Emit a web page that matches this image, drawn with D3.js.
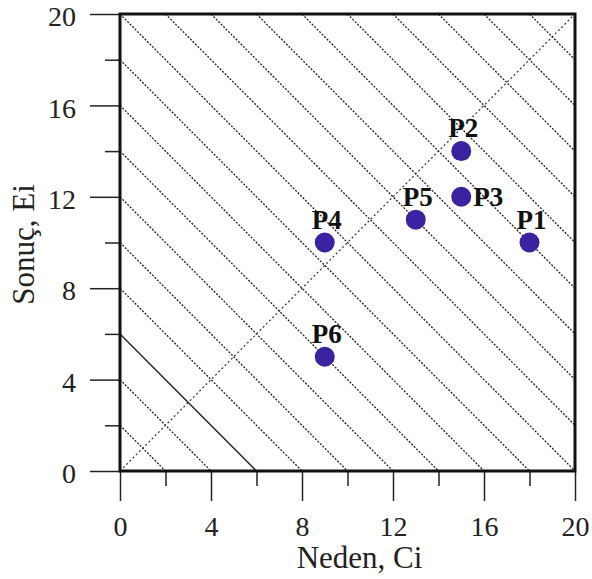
<!DOCTYPE html>
<html><head><meta charset="utf-8">
<script src="https://cdn.jsdelivr.net/npm/d3@7"></script>
<style>body{margin:0;background:#fff}svg{display:block}</style>
</head><body>
<svg id="chart" width="592" height="579"></svg>
<script>
// ---- data ----
const pointNames = ["P1","P2","P3","P4","P5","P6"];
const causeCi   = [18, 15, 15, 9, 13, 9];
const effectEi  = [10, 14, 12, 10, 11, 5];
const labelSide = ["top","top","right","top","top","top"];
const dashedSums = [2,4,8,10,12,14,16,18,20,22,24,26,28,30,32,34,36,38];
const solidSum = 6;
const majorTicks = [0,4,8,12,16,20];
const minorTicks = [2,6,10,14,18];
const xTitle = "Neden, Ci";
const yTitle = "Sonuç, Ei";

const svg = d3.select("#chart");
const x = d3.scaleLinear().domain([0,20]).range([120,575]);
const y = d3.scaleLinear().domain([0,20]).range([471,14]);
const font = "'Liberation Serif','Times New Roman',serif";

// diagonal guide lines x+y=c
function seg(c){ return [[Math.max(0,c-20), Math.min(20,c)],[Math.min(20,c), Math.max(0,c-20)]]; }
const line = d3.line().x(d=>x(d[0])).y(d=>y(d[1]));
svg.append("g").selectAll("path").data(dashedSums).join("path")
  .attr("d", c=>line(seg(c))).attr("fill","none")
  .attr("stroke","#222").attr("stroke-width",1.3).attr("stroke-dasharray","2,1.5");
// identity line
svg.append("path").attr("d", line([[0,0],[20,20]])).attr("fill","none")
  .attr("stroke","#333").attr("stroke-width",1.2).attr("stroke-dasharray","2,2.5");
// solid line
svg.append("path").attr("d", line(seg(solidSum))).attr("fill","none")
  .attr("stroke","#222").attr("stroke-width",1.4);

// axes
const xAxisMajor = d3.axisBottom(x).tickValues(majorTicks).tickSize(30).tickPadding(15).tickFormat(d3.format("d"));
const xAxisMinor = d3.axisBottom(x).tickValues(minorTicks).tickSize(15).tickFormat("");
const yAxisMajor = d3.axisLeft(y).tickValues(majorTicks).tickSize(30).tickPadding(14).tickFormat(d3.format("d"));
const yAxisMinor = d3.axisLeft(y).tickValues(minorTicks).tickSize(15).tickFormat("");
function styleAxis(g){
  g.select(".domain").remove();
  g.selectAll("line").attr("stroke","#222").attr("stroke-width",1.5);
  g.selectAll("text").attr("font-family",font).attr("font-size",28).attr("fill","#222");
}
svg.append("g").attr("transform","translate(0,471)").call(xAxisMajor).call(styleAxis);
svg.append("g").attr("transform","translate(0,471)").call(xAxisMinor).call(styleAxis);
svg.append("g").attr("transform","translate(120,0)").call(yAxisMajor).call(styleAxis)
  .selectAll("text").attr("dy","0.42em");
svg.append("g").attr("transform","translate(120,0)").call(yAxisMinor).call(styleAxis);

// frame
svg.append("rect").attr("x",x(0)).attr("y",y(20)).attr("width",x(20)-x(0)).attr("height",y(0)-y(20))
  .attr("fill","none").attr("stroke","#111").attr("stroke-width",3);

// titles
svg.append("text").attr("x",(x(0)+x(20))/2+12).attr("y",568).attr("text-anchor","middle")
  .attr("font-family",font).attr("font-size",31).attr("fill","#222").text(xTitle);
svg.append("text").attr("transform",`translate(34,${(y(0)+y(20))/2+2}) rotate(-90)`).attr("text-anchor","middle")
  .attr("font-family",font).attr("font-size",31).attr("fill","#222").text(yTitle);

// points
const pts = pointNames.map((n,i)=>({n, cx:causeCi[i], ey:effectEi[i], side:labelSide[i]}));
svg.append("g").selectAll("circle").data(pts).join("circle")
  .attr("cx",d=>x(d.cx)).attr("cy",d=>y(d.ey)).attr("r",10).attr("fill","#3a22a0");
svg.append("g").selectAll("text").data(pts).join("text")
  .attr("x",d=>d.side==="right"? x(d.cx)+12 : x(d.cx)+2)
  .attr("y",d=>d.side==="right"? y(d.ey)+9 : y(d.ey)-14)
  .attr("text-anchor",d=>d.side==="right"?"start":"middle")
  .attr("font-family",font).attr("font-weight","bold").attr("font-size",27).attr("fill","#111")
  .text(d=>d.n);
</script>
</body></html>
